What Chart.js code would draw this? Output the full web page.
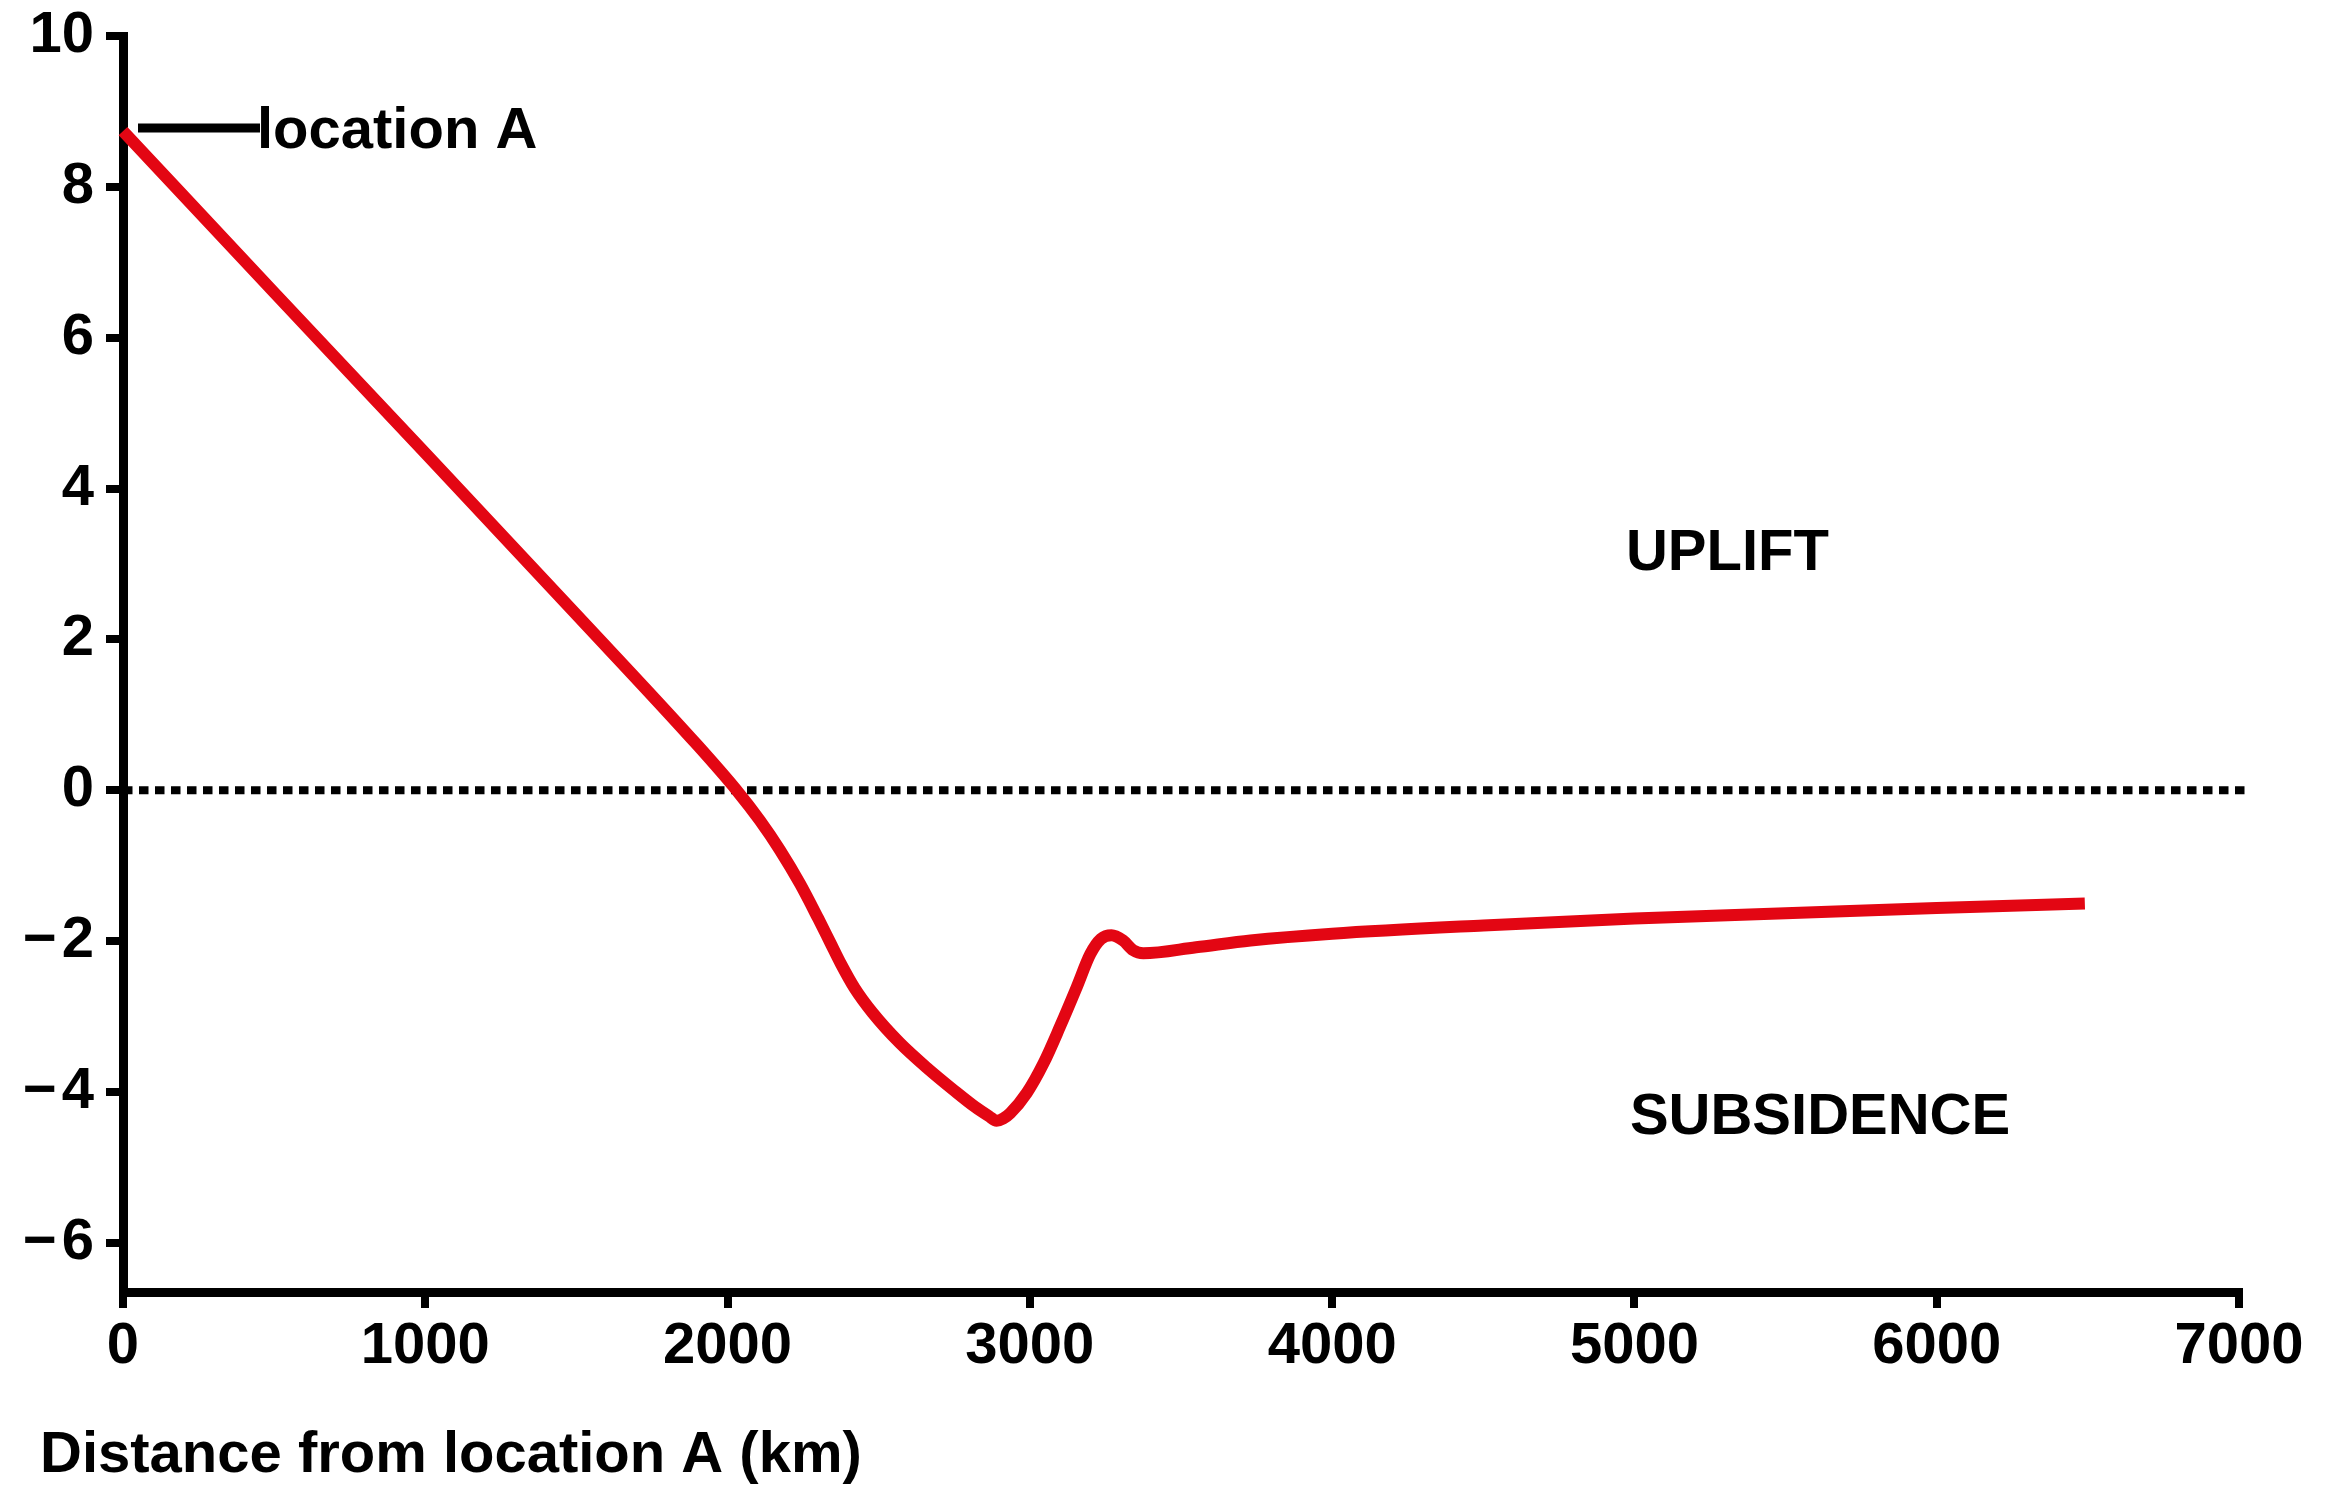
<!DOCTYPE html>
<html>
<head>
<meta charset="utf-8">
<script src="https://cdn.jsdelivr.net/npm/chart.js@4.4.1/dist/chart.umd.min.js"></script>
<style>
  html, body { margin: 0; padding: 0; background: #ffffff; overflow: hidden; }
  #wrap { width: 2328px; height: 1488px; position: relative; }
</style>
</head>
<body>
<div id="wrap"><canvas id="c"></canvas></div>
<script>
// ---- data ----
const distanceKm = [0, 500, 1000, 1500, 1900, 2030, 2107, 2173, 2240, 2300, 2340, 2375, 2420, 2480, 2570, 2660, 2750, 2820, 2865, 2890, 2912, 2935, 2990, 3045, 3100, 3155, 3200, 3235, 3270, 3308, 3342, 3375, 3550, 3730, 4000, 4500, 5000, 5500, 6000, 6490];
const upliftValue = [8.74, 6.60, 4.47, 2.33, 0.60, 0, -0.40, -0.79, -1.24, -1.70, -2.02, -2.30, -2.62, -2.95, -3.35, -3.68, -3.98, -4.20, -4.32, -4.38, -4.35, -4.28, -4.01, -3.62, -3.13, -2.61, -2.17, -1.97, -1.92, -1.99, -2.12, -2.16, -2.08, -1.99, -1.90, -1.79, -1.70, -1.63, -1.56, -1.50];
const zeroLineKm = [0, 7030];
const zeroLineValue = [0, 0];
const xTickValues = [0, 1000, 2000, 3000, 4000, 5000, 6000, 7000];
const yTickValues = [-6, -4, -2, 0, 2, 4, 6, 8, 10];
const regionLabels = ['UPLIFT', 'SUBSIDENCE'];
const pointLabel = 'location A';
const xAxisTitle = 'Distance from location A (km)';

// ---- styling ----
const FONT = '"Liberation Sans", Arial, Helvetica, sans-serif';
const RED = 'rgb(227,6,19)';
Chart.defaults.font.family = FONT;

const curve = distanceKm.map((d, i) => ({ x: d, y: upliftValue[i] }));
const zeroLine = zeroLineKm.map((d, i) => ({ x: d, y: zeroLineValue[i] }));

const annotate = {
  id: 'annotate',
  afterDatasetsDraw(chart, args, opts) {
    const { ctx, chartArea } = chart;
    const xs = chart.scales.x, ys = chart.scales.y;
    ctx.save();
    ctx.fillStyle = '#000';
    ctx.strokeStyle = '#000';
    ctx.font = 'bold 58px ' + FONT;
    ctx.textAlign = 'left';
    ctx.textBaseline = 'alphabetic';
    opts.regions.forEach((r, i) => {
      ctx.fillText(regionLabels[i], xs.getPixelForValue(r.km), ys.getPixelForValue(r.value));
    });
    const x0 = xs.getPixelForValue(distanceKm[0]);
    const y0 = ys.getPixelForValue(upliftValue[0]);
    ctx.lineWidth = 9;
    ctx.beginPath();
    ctx.moveTo(x0 + opts.leader.from, y0 + opts.leader.dy);
    ctx.lineTo(x0 + opts.leader.to, y0 + opts.leader.dy);
    ctx.stroke();
    ctx.fillText(pointLabel, x0 + opts.leader.textDx, y0 + opts.leader.textDy);
    ctx.fillText(xAxisTitle, chartArea.left + opts.title.dx, chartArea.bottom + opts.title.dy);
    ctx.restore();
  }
};

const tickFont = { family: FONT, size: 58, weight: 'bold' };
const noPad = s => { s.paddingTop = 0; s.paddingBottom = 0; s.paddingLeft = 0; s.paddingRight = 0; };

new Chart(document.getElementById('c'), {
  type: 'line',
  data: {
    datasets: [
      {
        data: curve,
        borderColor: RED,
        borderWidth: 12,
        pointRadius: 0,
        cubicInterpolationMode: 'monotone',
        borderCapStyle: 'butt',
        borderJoinStyle: 'round',
        fill: false,
        clip: false
      },
      {
        data: zeroLine,
        borderColor: '#000',
        borderWidth: 8,
        borderDash: [9.5, 6.5],
        borderCapStyle: 'butt',
        pointRadius: 0,
        tension: 0,
        fill: false,
        clip: false
      }
    ]
  },
  options: {
    responsive: true,
    maintainAspectRatio: false,
    devicePixelRatio: 1,
    animation: false,
    events: [],
    layout: { autoPadding: false, padding: { left: 0, right: 89, top: 36, bottom: 0 } },
    plugins: {
      legend: { display: false },
      tooltip: { enabled: false },
      title: { display: false },
      annotate: {
        regions: [ { km: 4972, value: 2.92 }, { km: 4985, value: -4.55 } ],
        leader: { from: 15, to: 137, dy: -3, textDx: 134, textDy: 17 },
        title: { dx: -83, dy: 180 }
      }
    },
    scales: {
      x: {
        type: 'linear',
        min: 0,
        max: 7000,
        afterBuildTicks: s => { s.ticks = xTickValues.map(v => ({ value: v })); },
        afterFit: s => { s.height = 196; noPad(s); },
        border: { display: true, color: '#000', width: 9 },
        grid: { display: true, drawOnChartArea: false, drawTicks: true, tickLength: 16, tickWidth: 8, tickColor: '#000', color: '#000', lineWidth: 8 },
        ticks: { autoSkip: false, maxRotation: 0, minRotation: 0, color: '#000', font: tickFont, padding: 4, callback: v => String(v) }
      },
      y: {
        type: 'linear',
        min: -6.65,
        max: 10,
        afterBuildTicks: s => { s.ticks = yTickValues.map(v => ({ value: v })); },
        afterFit: s => { s.width = 123; noPad(s); },
        border: { display: true, color: '#000', width: 9 },
        grid: { display: true, drawOnChartArea: false, drawTicks: true, tickLength: 17, tickWidth: 8, tickColor: '#000', color: '#000', lineWidth: 8 },
        ticks: { autoSkip: false, color: '#000', font: tickFont, padding: 12, callback: v => (v < 0 ? '\u2212\u200A' + Math.abs(v) : String(v)) }
      }
    }
  },
  plugins: [annotate]
});
</script>
</body>
</html>
